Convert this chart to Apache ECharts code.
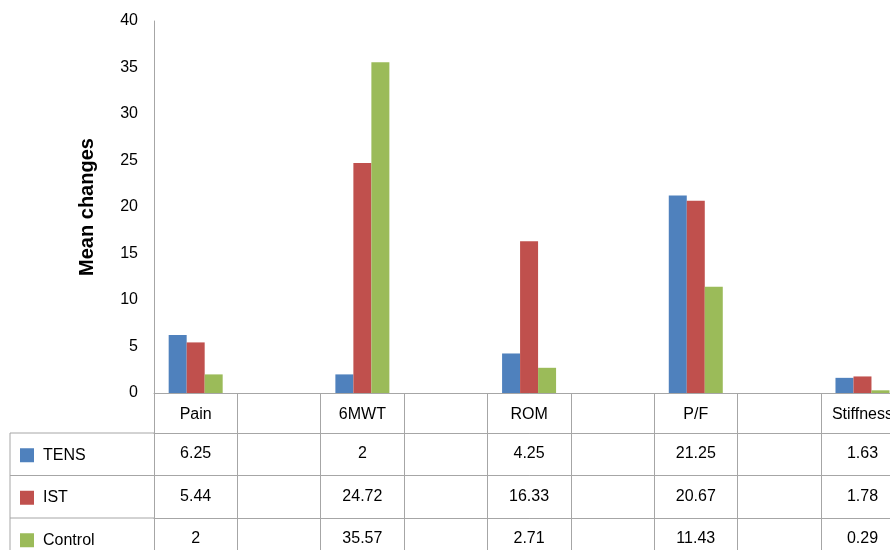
<!DOCTYPE html>
<html>
<head>
<meta charset="utf-8">
<script src="https://cdn.jsdelivr.net/npm/echarts@6/dist/echarts.min.js"></script>
<style>
  html, body { margin: 0; padding: 0; background: #fff; overflow: hidden; }
  /* the last table column runs past the right edge of the page */
  #chart { width: 910px; height: 550px; }
</style>
</head>
<body>
<div id="chart"></div>
<script>
// Outcome measures and mean changes per group
const metrics = ['Pain', '6MWT', 'ROM', 'P/F', 'Stiffness'];
const seriesNames = ['TENS', 'IST', 'Control'];
const tens = [6.25, 2, 4.25, 21.25, 1.63];
const ist = [5.44, 24.72, 16.33, 20.67, 1.78];
const control = [2, 35.57, 2.71, 11.43, 0.29];
const yMin = 0, yMax = 40, yStep = 5;

const colors = ['#4F81BD', '#C0504D', '#9BBB59'];
const lineColor = '#a6a6a6';
const FONT = '"Liberation Sans", Arial, sans-serif';

// Layout of plot area and the data table beneath it
const GRID_LEFT = 154, GRID_TOP = 21, GRID_H = 372, CAT_W = 83.35;
const TABLE_LEFT = 10;
const HEADER_H = 40, ROW_H = 42.5;

// Categories: each measure separated by an empty column
const categories = [];
metrics.forEach((m, i) => { categories.push(m); if (i < metrics.length - 1) categories.push(''); });
function spread(values, fmt) {
  const out = [];
  values.forEach((v, i) => { out.push(fmt ? fmt(v) : v); if (i < values.length - 1) out.push(fmt ? '' : '-'); });
  return out;
}
const groups = [tens, ist, control];

const axisBottom = GRID_TOP + GRID_H;
const rowTops = groups.map((_, i) => axisBottom + HEADER_H + i * ROW_H);

const xAxes = [{
  type: 'category',
  data: categories,
  gridIndex: 0,
  position: 'bottom',
  axisLine: { show: true, lineStyle: { color: lineColor, width: 1 } },
  axisTick: { show: true, interval: 0, length: HEADER_H + ROW_H * 3 + 5, lineStyle: { color: lineColor } },
  axisLabel: { interval: 0, margin: 14, fontSize: 16, color: '#000', fontFamily: FONT }
}];
groups.forEach((g, i) => {
  xAxes.push({
    type: 'category',
    data: spread(g, v => String(v)),
    gridIndex: 0,
    position: 'bottom',
    offset: rowTops[i] - axisBottom,
    axisLine: { show: true, lineStyle: { color: lineColor, width: 1 } },
    axisTick: { show: false },
    axisLabel: { interval: 0, margin: 13, fontSize: 16, color: '#000', fontFamily: FONT }
  });
});

// Left column of the table: row borders and outer edge
const graphics = rowTops.map(t => ({
  type: 'line', silent: true,
  shape: { x1: TABLE_LEFT, y1: t, x2: GRID_LEFT, y2: t },
  style: { stroke: lineColor, lineWidth: 1 }
}));
graphics.push({
  type: 'line', silent: true,
  shape: { x1: TABLE_LEFT, y1: rowTops[0], x2: TABLE_LEFT, y2: rowTops[0] + ROW_H * 3 },
  style: { stroke: lineColor, lineWidth: 1 }
});

const legends = seriesNames.map((n, i) => ({
  data: [n],
  left: 20,
  top: rowTops[i] + (ROW_H - 14) / 2,
  padding: 0,
  icon: 'rect',
  itemWidth: 14,
  itemHeight: 14,
  textStyle: { fontSize: 16, color: '#000', fontFamily: FONT, padding: [0, 0, 0, 4] }
}));

const option = {
  animation: false,
  textStyle: { fontFamily: FONT },
  color: colors,
  grid: { left: GRID_LEFT, top: GRID_TOP, width: CAT_W * categories.length, height: GRID_H, containLabel: false },
  legend: legends,
  xAxis: xAxes,
  yAxis: {
    type: 'value',
    min: yMin, max: yMax, interval: yStep,
    name: 'Mean changes',
    nameLocation: 'middle',
    nameRotate: 90,
    nameGap: 57,
    nameTextStyle: { fontSize: 20, fontWeight: 'bold', color: '#000', fontFamily: FONT },
    axisLine: { show: true, lineStyle: { color: lineColor, width: 1 } },
    axisTick: { show: false },
    splitLine: { show: false },
    axisLabel: { fontSize: 16, color: '#000', margin: 16, fontFamily: FONT }
  },
  series: seriesNames.map((n, i) => ({
    name: n,
    type: 'bar',
    xAxisIndex: 0,
    data: spread(groups[i]),
    barWidth: 18,
    barGap: '0%',
    itemStyle: { color: colors[i] }
  })),
  graphic: graphics
};

const chart = echarts.init(document.getElementById('chart'), null, { renderer: 'canvas' });
chart.setOption(option);
</script>
</body>
</html>
